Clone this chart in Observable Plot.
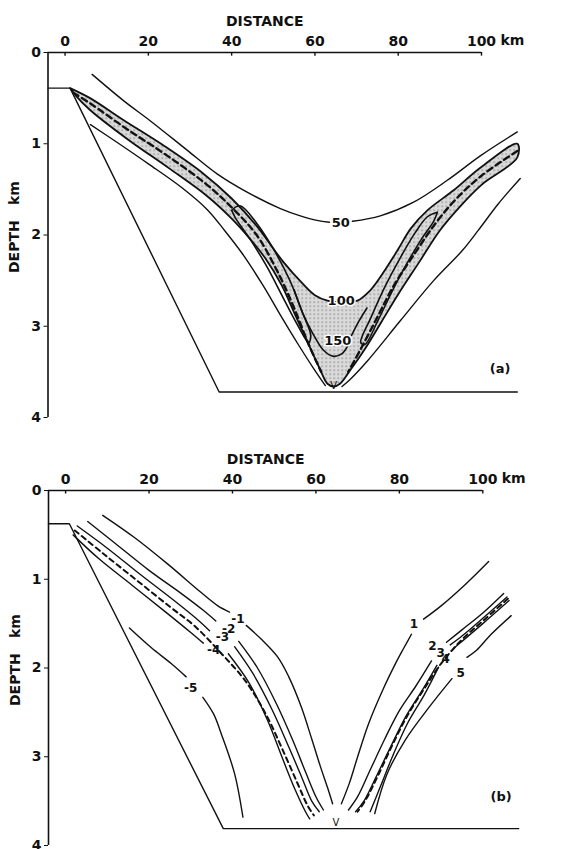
<!DOCTYPE html>
<html><head><meta charset="utf-8">
<script src="https://cdn.jsdelivr.net/npm/d3@7"></script>
<script src="https://cdn.jsdelivr.net/npm/@observablehq/plot@0.6"></script>
<style>body{margin:0;background:#fff;} #wrap{width:561px;} svg{display:block}</style>
</head><body><div id="wrap"></div>
<script>
// ---------- axes ----------
const xTicks = [0, 20, 40, 60, 80, 100];
const yTicks = [0, 1, 2, 3, 4];
const xDomain = [-4.1, 100];
const yDomain = [0, 4];

// ---------- panel (a) : [distance km, depth km] ----------
const aBasin = [[-4.1,0.39],[1.2,0.39],[37,3.72],[108.6,3.72]];
const a50upL = [[6.5,0.24],[14.1,0.53],[20.5,0.75],[29.3,1.07],[36.5,1.33],[43.7,1.53],[51.7,1.71],[56.5,1.79],[60.5,1.84],[63.5,1.86]];
const a50upR = [[69,1.85],[75.7,1.79],[83.7,1.64],[91.8,1.40],[99.8,1.13],[108.6,0.87]];
const a100 = [[1.2,0.39],[6,0.5],[14,0.74],[24,1.03],[33,1.32],[40,1.6],[46,1.9],[52.5,2.3],[57,2.53],[60,2.66],[63,2.72],[66.5,2.74],[70.2,2.72],[73,2.62],[75.7,2.46],[79.8,2.17],[83,1.93],[87,1.73],[93.3,1.51],[99.8,1.26],[108.6,1.0],
  [108.6,1.15],[100,1.45],[95,1.68],[90,1.95],[85,2.3],[80,2.65],[76,2.95],[72,3.25],[68.5,3.48],[66,3.63],[64.5,3.66],
  [63,3.63],[61,3.45],[58,3.15],[55,2.85],[52,2.55],[48,2.25],[44,2.02],[40,1.82],[34,1.57],[25,1.27],[15,0.95],[6,0.63],[2.5,0.47],[1.2,0.39]];
const a50lowL = [[6.1,0.79],[12,0.97],[20,1.22],[28,1.48],[34.1,1.72],[38.3,1.95],[42.5,2.2],[47.5,2.55],[52,2.9],[56,3.2],[59.5,3.45],[62.5,3.65]];
const a50lowR = [[109.3,1.38],[104,1.66],[99.2,1.95],[95.4,2.17],[88.5,2.5],[80.5,2.94],[72.6,3.38],[68.5,3.58],[66.5,3.66]];
const aDashL = [[2,0.44],[6.1,0.56],[14.9,0.84],[24.5,1.13],[34.1,1.45],[40.5,1.72],[46,2.0],[51,2.4],[55,2.8],[58.5,3.2],[61.5,3.5]];
const aDashR = [[108.6,1.08],[100,1.35],[94,1.6],[89,1.87],[84,2.2],[79,2.55],[75,2.9],[71,3.25],[68,3.5]];
const a150L = [[40,1.73],[42,1.68],[46,1.87],[50,2.15],[54,2.5],[57,2.85],[59,3.1],[58.5,3.18],[56,3.0],[52.5,2.7],[48.5,2.35],[44.5,2.05],[41,1.82],[40,1.73]];
const a150R = [[89.4,1.75],[87,1.8],[84,1.98],[80.5,2.25],[77,2.55],[73.5,2.9],[71,3.18],[72,3.2],[75,2.95],[78.5,2.62],[82,2.32],[85.5,2.05],[88.5,1.85],[89.4,1.75]];
const a150U1 = [[55,2.6],[57,2.85],[59.5,3.08],[62,3.26],[64.5,3.33],[66.5,3.3],[67.8,3.22]];
const a150U2 = [[68.8,3.1],[70.5,2.95],[72.5,2.8]];
const aLabels = [{x:66.2,y:1.87,t:"50"},{x:66.3,y:2.72,t:"100"},{x:65.5,y:3.16,t:"150"}];
const aV = [{x:64.5,y:3.72}];

// ---------- panel (b) ----------
const bBasin = [[-4.1,0.375],[0.9,0.375],[37.8,3.81],[108.6,3.81]];
const bM1a = [[8.9,0.28],[16.5,0.53],[24.5,0.83],[32.5,1.15],[36.5,1.3],[39.3,1.37]];
const bM1b = [[43.3,1.52],[47,1.68],[50.9,1.88],[53.5,2.1],[56.5,2.44],[59,2.8],[61,3.1],[62.8,3.35],[64,3.53]];
const bM2a = [[5.3,0.35],[12,0.6],[20,0.9],[28,1.17],[33,1.35],[36,1.47]];
const bM2b = [[41.5,1.7],[46,2.0],[50.5,2.4],[54.5,2.82],[57.5,3.17],[60,3.45],[61.8,3.6]];
const bM3a = [[2.8,0.4],[10,0.65],[18,0.95],[26,1.24],[32,1.47],[34.5,1.58]];
const bM3b = [[40.5,1.76],[45,2.07],[49.5,2.47],[53.5,2.89],[56.5,3.22],[59,3.5],[60.8,3.62]];
const bMdash = [[2.2,0.45],[9,0.71],[17,1.01],[25,1.31],[31,1.53],[37,1.82],[43,2.14],[48,2.52],[52,2.92],[55.5,3.29],[58,3.55],[59.5,3.66]];
const bM4a = [[1.8,0.5],[8,0.77],[16,1.07],[24,1.37],[30,1.6],[33,1.72]];
const bM4b = [[39,1.84],[44,2.17],[48.5,2.6],[52,3.02],[55,3.37],[57.5,3.62],[58.5,3.7]];
const bM5a = [[15.3,1.55],[20.5,1.77],[25.3,1.95],[28.9,2.1]];
const bM5b = [[32.9,2.33],[35.5,2.52],[37.3,2.74],[40.5,3.19],[42.5,3.68]];
const bP1a = [[101.4,0.80],[96,1.05],[90,1.3],[85.8,1.45]];
const bP1b = [[82.9,1.62],[81,1.78],[79.4,1.92],[76,2.25],[72.6,2.63],[70,3.0],[68,3.3],[66.1,3.53]];
const bP2a = [[105,1.16],[100,1.38],[95,1.57],[91.3,1.71]];
const bP2b = [[87.7,1.92],[84,2.2],[80,2.48],[76.5,2.8],[73,3.15],[70,3.45],[67.8,3.6]];
const bP3a = [[105.8,1.20],[100,1.44],[95,1.64],[92.2,1.74]];
const bP3b = [[89,1.97],[85.5,2.25],[81.5,2.55],[78,2.88],[74.5,3.22],[71.5,3.5],[69.5,3.62]];
const bPdash = [[106,1.22],[100,1.47],[95,1.68],[90,1.95],[86,2.23],[82,2.53],[78.5,2.85],[75,3.2],[72,3.48],[70,3.62]];
const bP4a = [[106.3,1.24],[100,1.5],[95,1.7],[93,1.78]];
const bP4b = [[89.4,1.99],[86,2.3],[82,2.62],[78.5,2.98],[75.5,3.33],[73,3.62]];
const bP5a = [[106.8,1.41],[102,1.62],[98.5,1.8],[96.2,1.88]];
const bP5b = [[92.6,2.12],[87,2.45],[81.3,2.82],[77,3.2],[74.1,3.64]];
const bLabels = [{x:41.3,y:1.45,t:"-1"},{x:39.1,y:1.56,t:"-2"},{x:37.6,y:1.65,t:"-3"},{x:35.5,y:1.80,t:"-4"},{x:30.0,y:2.23,t:"-5"},
  {x:83.5,y:1.51,t:"1"},{x:87.9,y:1.75,t:"2"},{x:89.9,y:1.83,t:"3"},{x:91.1,y:1.90,t:"4"},{x:94.7,y:2.06,t:"5"}];
const bV = [{x:64.8,y:3.81}];

// ---------- helpers ----------
const FONT = "DejaVu Sans";
const px = d => d[0], py = d => d[1];
function L(arr, o = {}) {
  return Plot.line(arr, {x: px, y: py, curve: "catmull-rom", stroke: "#111", strokeWidth: 1.4, ...o});
}
function axes(tag) {
  return [
    Plot.ruleY([yDomain[0]], {stroke: "#111", strokeWidth: 1.6}),
    Plot.ruleX([xDomain[0]], {stroke: "#111", strokeWidth: 1.6}),
    Plot.ruleX(xTicks, {x: d => d, y1: 0, y2: 0.04, stroke: "#111", strokeWidth: 1.4}),
    Plot.axisX({anchor: "top", ticks: xTicks, tickSize: 0, tickPadding: 7, fontSize: 14, fontWeight: "bold", label: null}),
    Plot.text(["km"], {x: 100, y: 0, dx: 19, dy: -12, textAnchor: "start", fontSize: 14, fontWeight: "bold"}),
    Plot.axisY({anchor: "left", ticks: yTicks, tickSize: 4, tickPadding: 3, fontSize: 14, fontWeight: "bold", tickFormat: d => d, label: null}),
    Plot.text(["DISTANCE"], {frameAnchor: "top", dy: -36, fontSize: 14, fontWeight: "bold"}),
    Plot.text(["km"], {frameAnchor: "left", dx: -33, dy: -30, rotate: -90, fontSize: 14, fontWeight: "bold"}),
    Plot.text(["DEPTH"], {frameAnchor: "left", dx: -33, dy: 38, rotate: -90, fontSize: 14, fontWeight: "bold"}),
    Plot.text([tag], {frameAnchor: "bottom-right", dx: 29, dy: -45, fontSize: 13, fontWeight: "bold"})
  ];
}
const common = {
  width: 561,
  x: {domain: xDomain, axis: null, label: null},
  y: {domain: yDomain, reverse: true, axis: null, label: null},
  style: {fontFamily: FONT, fontSize: "14px", color: "#111", background: "#fff", overflow: "visible"}
};

// ---------- panel (a) ----------
const svgA = Plot.plot({
  ...common, height: 425, marginLeft: 47.5, marginRight: 80, marginTop: 52, marginBottom: 8,
  marks: [
    L(a100, {fill: "url(#stip)", strokeWidth: 1.8}),
    L(aBasin, {curve: "linear"}),
    L(a50upL), L(a50upR), L(a50lowL), L(a50lowR),
    L(aDashL, {strokeWidth: 2.4, strokeDasharray: "6,4"}),
    L(aDashR, {strokeWidth: 2.4, strokeDasharray: "6,4"}),
    L(a150L, {strokeWidth: 1.6}), L(a150R, {strokeWidth: 1.6}),
    L(a150U1, {strokeWidth: 1.6}), L(a150U2, {strokeWidth: 1.6}),
    Plot.text(aLabels, {x: "x", y: "y", text: "t", fontSize: 13, fontWeight: "bold", fill: "#111", stroke: "#fff", strokeWidth: 3}),
    Plot.text(aV, {x: "x", y: "y", text: () => "V", dy: -6, fontSize: 10}),
    ...axes("(a)")
  ]
});
const defs = d3.select(svgA).insert("defs", ":first-child");
const pat = defs.append("pattern").attr("id", "stip").attr("width", 4).attr("height", 4).attr("patternUnits", "userSpaceOnUse");
pat.append("rect").attr("width", 4).attr("height", 4).attr("fill", "#dadada");
pat.append("rect").attr("x", 1).attr("y", 1).attr("width", 1.3).attr("height", 1.3).attr("fill", "#7a7a7a");

// ---------- panel (b) ----------
const svgB = Plot.plot({
  ...common, height: 424, marginLeft: 48, marginRight: 78.7, marginTop: 65, marginBottom: 4,
  marks: [
    L(bBasin, {curve: "linear"}),
    L(bM1a), L(bM1b), L(bM2a), L(bM2b), L(bM3a), L(bM3b), L(bM4a), L(bM4b), L(bM5a), L(bM5b),
    L(bMdash, {strokeWidth: 2, strokeDasharray: "5,4"}),
    L(bP1a), L(bP1b), L(bP2a), L(bP2b), L(bP3a), L(bP3b), L(bP4a), L(bP4b), L(bP5a), L(bP5b),
    L(bPdash, {strokeWidth: 2, strokeDasharray: "5,4"}),
    Plot.text(bLabels, {x: "x", y: "y", text: "t", fontSize: 12, fontWeight: "bold"}),
    Plot.text(bV, {x: "x", y: "y", text: () => "V", dy: -6, fontSize: 10}),
    ...axes("(b)")
  ]
});
const wrap = document.getElementById("wrap");
wrap.appendChild(svgA);
wrap.appendChild(svgB);
</script></body></html>
